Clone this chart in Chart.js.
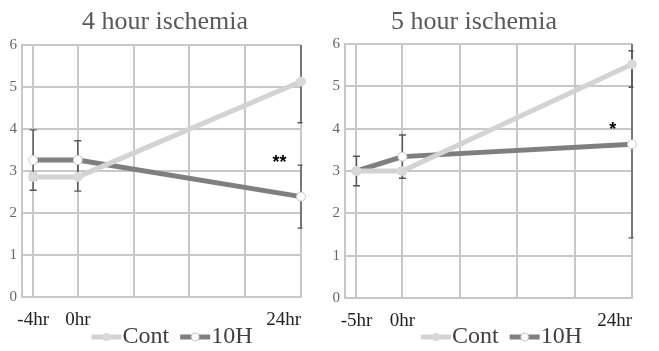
<!DOCTYPE html>
<html><head><meta charset="utf-8">
<script src="https://cdn.jsdelivr.net/npm/chart.js@4.4.1/dist/chart.umd.min.js"></script>
<style>
html,body{margin:0;padding:0;background:#fff;overflow:hidden;}
#wrap{position:relative;width:659px;height:351px;}
.panel{position:absolute;top:0;height:351px;}
#p1{left:0;width:330px;}
#p2{left:330px;width:329px;}
</style></head><body>
<div id="wrap">
  <div class="panel" id="p1"><canvas id="c1"></canvas></div>
  <div class="panel" id="p2"><canvas id="c2"></canvas></div>
</div>
<script>
// ---- data ----
const seriesNames = ['Cont', '10H'];
const titles = ['4 hour ischemia', '5 hour ischemia'];
const timeLabels4 = ['-4hr', '0hr', '24hr'];
const timeLabels5 = ['-5hr', '0hr', '24hr'];
const timePos = [-4.8, 0, 24];
const xGrid = [-6, -4.8, 0, 6, 12, 18, 24];
const yTicks = [0, 1, 2, 3, 4, 5, 6];

const cont4 = [2.86, 2.86, 5.13];
const h10_4 = [3.26, 3.26, 2.39];
const contErr4 = [0.08, 0.34, 0.98];
const h10Err4 = [0.72, 0.46, 0.75];

const cont5 = [3.00, 3.00, 5.52];
const h10_5 = [3.00, 3.34, 3.63];
const contErr5 = [0.08, 0.08, 0.54];
const h10Err5 = [0.35, 0.51, 2.21];

const sigText = ['**', '*'];
const sigX = [21.7, 22.0];
const sigY = [3.19, 3.97];

// ---- styles ----
const SERIF = "'Liberation Serif', 'Times New Roman', serif";
const CONT_COLOR = '#d3d3d3';
const H10_COLOR = '#7f7f7f';
const GRID = '#c8c8c8';
const LEG_PAD = -3;       // legend labels padding
const LEG_BOX = 33;       // legend point-style box width

function legendMarker(lineColor, fill, stroke) {
  const c = document.createElement('canvas');
  c.width = LEG_BOX + 24; c.height = 10;
  const g = c.getContext('2d');
  const end = c.width - 1, start = end - 30, mid = end - 15;
  g.strokeStyle = lineColor; g.lineWidth = 5;
  g.beginPath(); g.moveTo(start, 5); g.lineTo(end, 5); g.stroke();
  g.beginPath(); g.arc(mid, 5, 4, 0, Math.PI * 2);
  g.fillStyle = fill; g.fill();
  if (stroke) { g.strokeStyle = stroke; g.lineWidth = 1; g.stroke(); }
  return c;
}
const markers = [legendMarker(CONT_COLOR, '#d9d9d9', null), legendMarker(H10_COLOR, '#ffffff', '#c8c8c8')];

const errorBarPlugin = {
  id: 'errorBars',
  beforeDatasetsDraw(chart, args, opts) {
    const {ctx, chartArea: a} = chart;
    const xs = chart.scales.x, ys = chart.scales.y;
    ctx.save();
    ctx.beginPath();
    ctx.rect(a.left - 5, a.top, a.right - a.left + 6.5, a.bottom - a.top + 1);
    ctx.clip();
    ctx.strokeStyle = '#555555';
    ctx.lineWidth = 1.4;
    chart.data.datasets.forEach((ds, di) => {
      const errs = opts.errors[di];
      ds.data.forEach((p, i) => {
        const x = xs.getPixelForValue(p.x);
        const yt = ys.getPixelForValue(p.y + errs[i]);
        const yb = ys.getPixelForValue(p.y - errs[i]);
        ctx.beginPath();
        ctx.moveTo(x, yt); ctx.lineTo(x, yb);
        ctx.moveTo(x - 3.5, yt); ctx.lineTo(x + 3.5, yt);
        ctx.moveTo(x - 3.5, yb); ctx.lineTo(x + 3.5, yb);
        ctx.stroke();
      });
    });
    ctx.restore();
  }
};

const extrasPlugin = {
  id: 'extras',
  afterDraw(chart, args, opts) {
    const {ctx} = chart;
    const xs = chart.scales.x, ys = chart.scales.y;
    ctx.save();
    ctx.font = '26px ' + SERIF;
    ctx.fillStyle = '#595959';
    ctx.textAlign = 'center';
    ctx.textBaseline = 'middle';
    ctx.fillText(opts.title, opts.titleX, opts.titleY);
    ctx.font = 'bold 18px ' + "'Liberation Sans', Arial, sans-serif";
    ctx.fillStyle = '#000000';
    ctx.fillText(opts.sig, xs.getPixelForValue(opts.sigX), ys.getPixelForValue(opts.sigY));
    ctx.restore();
  }
};

function makePanel(id, cfg) {
  const mkData = (vals) => vals.map((v, i) => ({x: timePos[i], y: v}));
  return new Chart(document.getElementById(id), {
    type: 'line',
    data: {
      datasets: [
        {label: seriesNames[0], data: mkData(cfg.cont), borderColor: CONT_COLOR, borderWidth: 5,
         pointRadius: 4.5, pointBackgroundColor: '#d9d9d9', pointBorderColor: '#d9d9d9', pointBorderWidth: 1,
         tension: 0, clip: false},
        {label: seriesNames[1], data: mkData(cfg.h10), borderColor: H10_COLOR, borderWidth: 5,
         pointRadius: 4.5, pointBackgroundColor: '#ffffff', pointBorderColor: '#c8c8c8', pointBorderWidth: 1,
         tension: 0, clip: false}
      ]
    },
    options: {
      responsive: true,
      maintainAspectRatio: false,
      animation: false,
      events: [],
      layout: {padding: {top: cfg.top, right: 0, left: 0, bottom: 0}},
      scales: {
        x: {
          type: 'linear', min: -6, max: 24,
          afterBuildTicks: (s) => { s.ticks = xGrid.map(v => ({value: v})); },
          afterFit: (s) => { s.height = cfg.xh; },
          grid: {color: GRID, lineWidth: 2, drawTicks: false},
          border: {color: GRID, width: 2},
          ticks: {
            autoSkip: false, maxRotation: 0, align: 'inner', padding: 12,
            color: '#222222', font: {family: SERIF, size: 19},
            callback: (v) => { const i = timePos.indexOf(v); return i >= 0 ? cfg.labels[i] : ''; }
          }
        },
        y: {
          min: 0, max: 6,
          afterBuildTicks: (s) => { s.ticks = yTicks.map(v => ({value: v})); },
          afterFit: (s) => { s.width = cfg.yw; },
          grid: {color: GRID, lineWidth: 2, drawTicks: false},
          border: {color: GRID, width: 2},
          ticks: {padding: 5, color: '#666666', font: {family: SERIF, size: 15}}
        },
        yr: {
          type: 'linear', position: 'right', min: 0, max: 6,
          afterFit: (s) => { s.width = cfg.right; },
          grid: {display: false, drawTicks: false},
          border: {display: false},
          ticks: {display: false}
        }
      },
      plugins: {
        title: {display: false},
        tooltip: {enabled: false},
        legend: {
          display: true, position: 'bottom', maxHeight: cfg.legH,
          labels: {
            usePointStyle: true, pointStyleWidth: LEG_BOX, padding: LEG_PAD,
            color: '#404040', font: {family: SERIF, size: 24},
            generateLabels: () => seriesNames.map((n, i) => ({
              text: n, pointStyle: markers[i], datasetIndex: i, hidden: false,
              fillStyle: 'transparent', strokeStyle: 'transparent', lineWidth: 0, fontColor: '#404040'
            }))
          }
        },
        errorBars: {errors: cfg.errs},
        extras: {title: cfg.title, titleX: cfg.titleX, titleY: 22, sig: cfg.sig, sigX: cfg.sigX, sigY: cfg.sigY}
      }
    },
    plugins: [errorBarPlugin, extrasPlugin]
  });
}

makePanel('c1', {cont: cont4, h10: h10_4, errs: [contErr4, h10Err4], labels: timeLabels4,
  top: 45, right: 29, yw: 22, xh: 31, legH: 23, title: titles[0], titleX: 165,
  sig: sigText[0], sigX: sigX[0], sigY: sigY[0]});
makePanel('c2', {cont: cont5, h10: h10_5, errs: [contErr5, h10Err5], labels: timeLabels5,
  top: 44, right: 27, yw: 15, xh: 30, legH: 23, title: titles[1], titleX: 144,
  sig: sigText[1], sigX: sigX[1], sigY: sigY[1]});
</script>
</body></html>
